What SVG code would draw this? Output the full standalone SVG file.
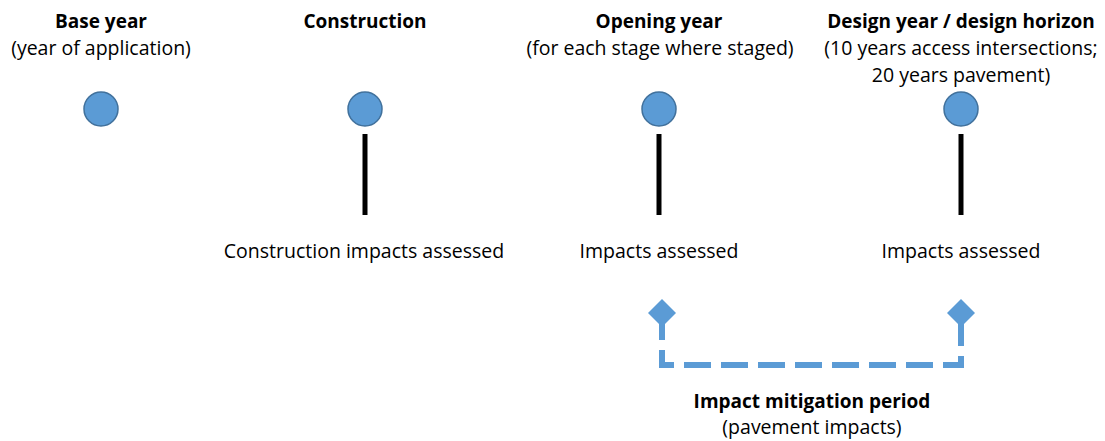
<svg xmlns="http://www.w3.org/2000/svg" width="1105" height="441" viewBox="0 0 1105 441">
<style>
text{font-family:"Open Sans","Noto Sans","Liberation Sans",sans-serif;font-size:19.5px;fill:#000;text-anchor:middle}
.b{font-weight:bold;font-size:19px}
.dot{fill:#5B9BD5;stroke:#41719C;stroke-width:1.5}
.stem{stroke:#000;stroke-width:5}
.dash{fill:none;stroke:#5B9BD5;stroke-width:6;stroke-dasharray:27 10}
.dia{fill:#5B9BD5}
</style>
<rect width="1105" height="441" fill="#fff"/>
<g id="base">
<circle class="dot" cx="101" cy="109" r="17"/>
<text class="b" x="101" y="28">Base year</text>
<text x="101" y="55">(year of application)</text>
</g>
<g id="construction">
<circle class="dot" cx="365" cy="109" r="17"/>
<line class="stem" x1="365" y1="134" x2="365" y2="215"/>
<text class="b" x="365" y="28">Construction</text>
<text x="364" y="258">Construction impacts assessed</text>
</g>
<g id="opening">
<circle class="dot" cx="659" cy="109" r="17"/>
<line class="stem" x1="659" y1="134" x2="659" y2="215"/>
<text class="b" x="659" y="28">Opening year</text>
<text x="660" y="55">(for each stage where staged)</text>
<text x="659" y="258">Impacts assessed</text>
</g>
<g id="design">
<circle class="dot" cx="961" cy="109" r="17"/>
<line class="stem" x1="961" y1="134" x2="961" y2="215"/>
<text class="b" x="961" y="28">Design year / design horizon</text>
<text x="961" y="55">(10 years access intersections;</text>
<text x="961" y="82">20 years pavement)</text>
<text x="961" y="258">Impacts assessed</text>
</g>
<g id="connectors">
<path class="dash" d="M662,313 V365 H961 V313"/>
<polygon class="dia" points="662,299 676,313 662,327 648,313"/>
<polygon class="dia" points="961,299 975,313 961,327 947,313"/>
</g>
<g id="mitigation">
<text class="b" x="812" y="408">Impact mitigation period</text>
<text x="812" y="434">(pavement impacts)</text>
</g>
</svg>
